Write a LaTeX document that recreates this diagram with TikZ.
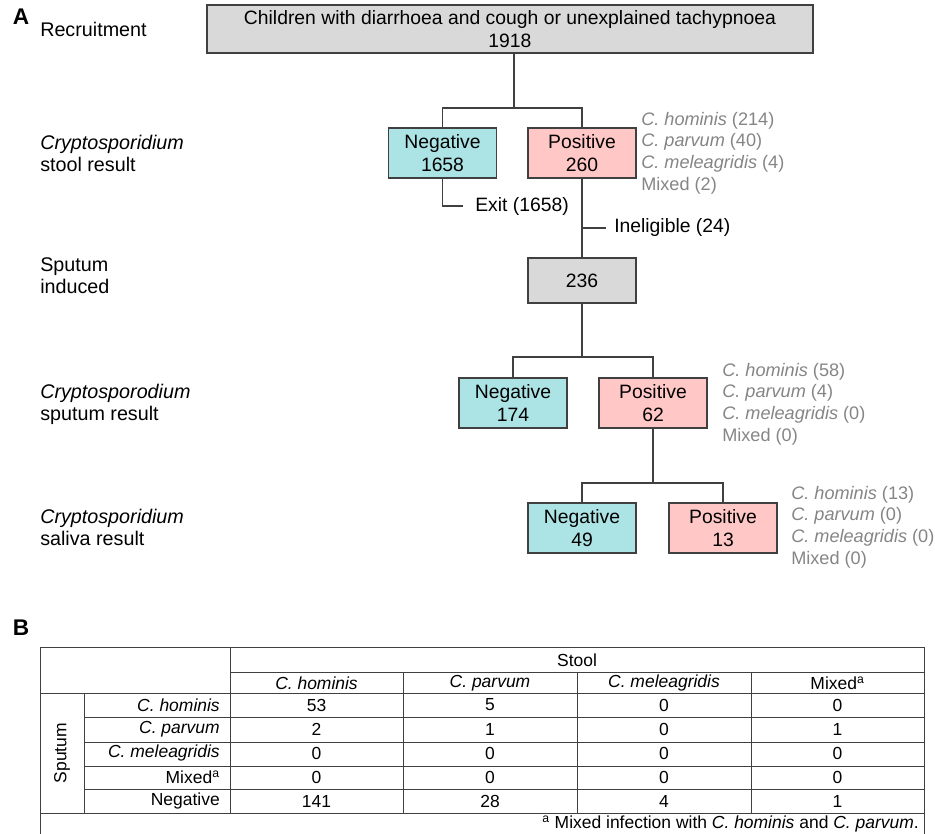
\documentclass[tikz,border=0pt]{standalone}
\usepackage{fontspec}
\setmainfont{Liberation Sans}
\definecolor{boxgray}{HTML}{D9D9D9}
\definecolor{negfill}{HTML}{ACE3E5}
\definecolor{posfill}{HTML}{FFC8C6}
\definecolor{sidegray}{HTML}{858585}
\definecolor{linegray}{HTML}{404040}
\tikzset{
 every node/.style={font=\fontsize{14.5}{17.25}\selectfont, inner sep=0pt},
 flowbox/.style={draw=linegray, line width=0.8pt, align=center, minimum width=81pt, minimum height=37.5pt},
 negbox/.style={flowbox, fill=negfill},
 posbox/.style={flowbox, fill=posfill},
 graybox/.style={flowbox, fill=boxgray},
 conn/.style={draw=linegray, line width=0.8pt},
 sidelbl/.style={anchor=west, align=left, text=sidegray, font=\fontsize{13.6}{16.3}\selectfont},
 leftlbl/.style={anchor=west, align=left, font=\fontsize{14.8}{16.5}\selectfont},
 panel/.style={font=\fontsize{17}{17}\selectfont\bfseries},
 tline/.style={draw=linegray, line width=0.7pt},
 tcell/.style={font=\fontsize{13.1}{15}\selectfont},
}
\begin{document}
\begin{tikzpicture}[x=0.75pt,y=-0.75pt]
\useasboundingbox (0,0) rectangle (935,834);
% ---------- Panel A ----------
\node[panel] (A) at (21,17) {A};
\node[leftlbl] (recr) at (40,29) {Recruitment};
\node[leftlbl] (lstool) at (40,153) {\textit{Cryptosporidium}\\stool result};
\node[leftlbl] (lspind) at (40,276) {Sputum\\induced};
\node[leftlbl] (lsput) at (40,404) {\textit{Cryptosporodium}\\sputum result};
\node[leftlbl] (lsal) at (40,527) {\textit{Cryptosporidium}\\saliva result};

\node[graybox, minimum width=454.5pt, minimum height=36pt] (top) at (510,29)
  {Children with diarrhoea and cough or unexplained tachypnoea\\1918};

\node[negbox] (neg1) at (442.5,153) {Negative\\1658};
\node[posbox] (pos1) at (582,153) {Positive\\260};
\node[sidelbl] (side1) at (641,153) {\textit{C. hominis} (214)\\\textit{C. parvum} (40)\\\textit{C. meleagridis} (4)\\Mixed (2)};

\node[anchor=west] (exit) at (475,206) {Exit (1658)};
\node[anchor=west] (inel) at (614,228) {Ineligible (24)};

\node[graybox, minimum height=33.75pt] (sp) at (582,280.5) {236};

\node[negbox] (neg2) at (513,403) {Negative\\174};
\node[posbox] (pos2) at (653,403) {Positive\\62};
\node[sidelbl] (side2) at (722,404) {\textit{C. hominis} (58)\\\textit{C. parvum} (4)\\\textit{C. meleagridis} (0)\\Mixed (0)};

\node[negbox] (neg3) at (582,528) {Negative\\49};
\node[posbox] (pos3) at (723,528) {Positive\\13};
\node[sidelbl] (side3) at (791,527) {\textit{C. hominis} (13)\\\textit{C. parvum} (0)\\\textit{C. meleagridis} (0)\\Mixed (0)};

% connectors
\coordinate (j1) at (514,108);
\draw[conn] (top.south -| j1) -- (j1);
\draw[conn] (neg1.north) |- (j1) -| (pos1.north);
\draw[conn] (neg1.south) |- ([xshift=-9pt]exit.west);
\draw[conn] (pos1.south) -- (sp.north);
\draw[conn] (pos1.south |- inel.west) -- ([xshift=-6pt]inel.west);
\coordinate (j2) at (582,357);
\draw[conn] (sp.south) -- (j2);
\draw[conn] (neg2.north) |- (j2) -| (pos2.north);
\coordinate (j3) at (653,483);
\draw[conn] (pos2.south) -- (j3);
\draw[conn] (neg3.north) |- (j3) -| (pos3.north);

% ---------- Panel B ----------
\node[panel] (B) at (21,628) {B};
% table lines
\draw[tline] (40,834) -- (40,647) -- (924,647) -- (924,834);
\draw[tline] (230,672) -- (924,672);
\draw[tline] (40,693) -- (924,693);
\foreach \yy in {717,742,766,789} \draw[tline] (84,\yy) -- (924,\yy);
\draw[tline] (40,813) -- (924,813);
\draw[tline] (230,647) -- (230,813);
\draw[tline] (84,693) -- (84,813);
\foreach \xx in {403,577,751} \draw[tline] (\xx,672) -- (\xx,813);

\node[tcell] (stool) at (577,660) {Stool};
\node[tcell] (h1) at (316.5,683) {\textit{C. hominis}};
\node[tcell] (h2) at (490,683) {\textit{C. parvum}};
\node[tcell] (h3) at (664,683) {\textit{C. meleagridis}};
\node[tcell] (h4) at (837.5,683) {Mixed\textsuperscript{a}};
\node[tcell, rotate=90] (sputum) at (62,753) {Sputum};

\foreach \lab/\a/\b/\c/\d [count=\r] in {
  {\textit{C. hominis}}/53/5/0/0,
  {\textit{C. parvum}}/2/1/0/1,
  {\textit{C. meleagridis}}/0/0/0/0,
  {Mixed\textsuperscript{a}}/0/0/0/0,
  {Negative}/141/28/4/1}{
  \pgfmathsetmacro\yy{681+24*\r}
  \node[tcell, anchor=east] (rl\r) at (220,\yy) {\lab};
  \node[tcell] (v\r-1) at (316.5,\yy) {\a};
  \node[tcell] (v\r-2) at (490,\yy) {\b};
  \node[tcell] (v\r-3) at (664,\yy) {\c};
  \node[tcell] (v\r-4) at (837.5,\yy) {\d};
}
\node[tcell, anchor=east] (foot) at (919,824) {\textsuperscript{a} Mixed infection with \textit{C. hominis} and \textit{C. parvum}.};
\end{tikzpicture}
\end{document}
